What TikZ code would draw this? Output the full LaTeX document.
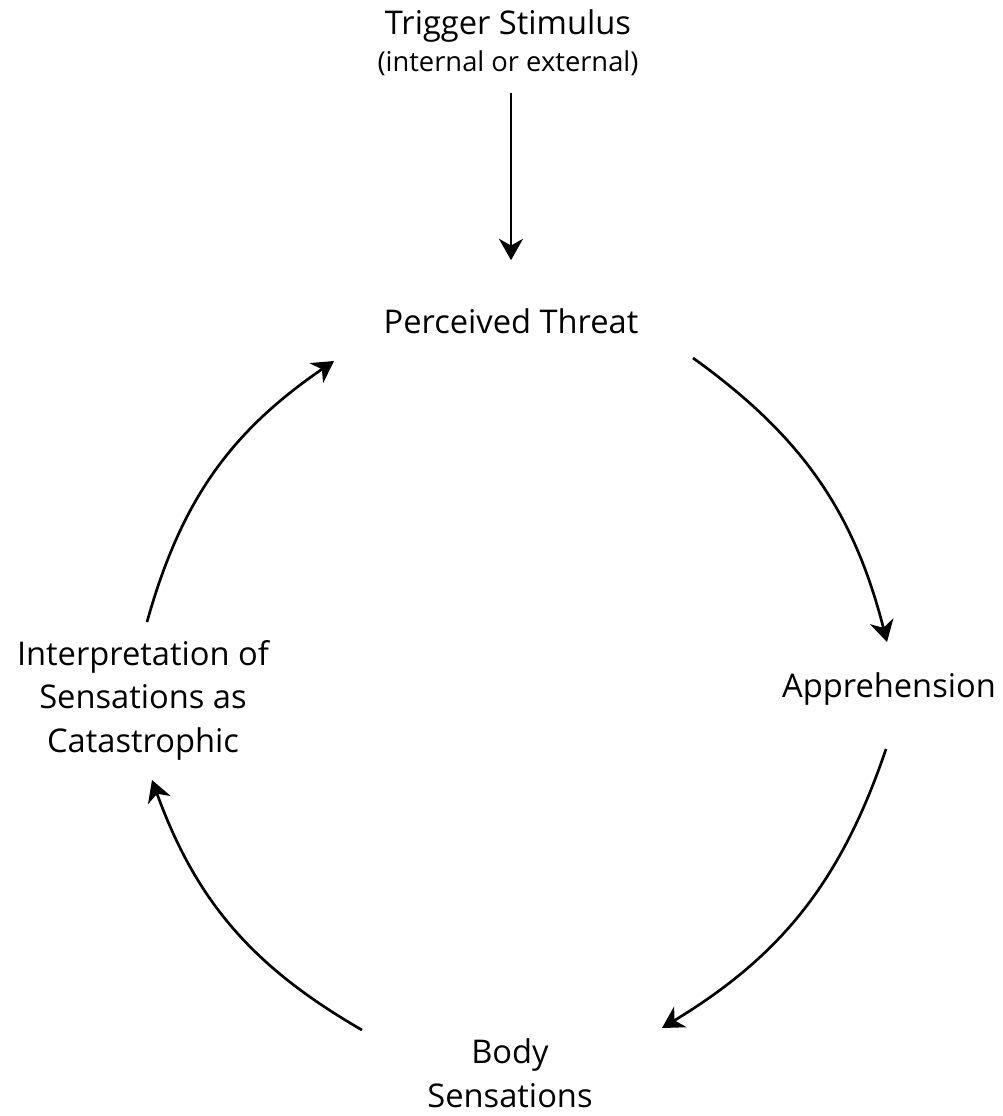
\documentclass[tikz,border=0pt]{standalone}
\usepackage{fontspec}
\setmainfont{Open Sans}
\usetikzlibrary{arrows.meta}
\begin{document}
\begin{tikzpicture}[x=0.75pt,y=0.75pt,line join=round,>={Stealth[length=16pt,width=18pt,inset=5pt]},font=\fontsize{24.5}{32.5}\selectfont]
	\tikzset{every node/.style={inner sep=0pt,align=center},
		cyc/.style={->,line width=2pt}}
	\useasboundingbox (0,0) rectangle (1002,-1116);
	\node[anchor=base] (trig) at (508,-35) {Trigger Stimulus};
	\node[anchor=base,font=\fontsize{20.5}{24}\selectfont] (ext) at (508,-72) {(internal or external)};
	\node[anchor=base] (threat) at (511,-333) {Perceived Threat};
	\node[anchor=base] (appr) at (889,-697) {Apprehension};
	\node[anchor=base] (body) at (510,-1107) {Body\\Sensations};
	\node[anchor=base] (interp) at (143,-752) {Interpretation of\\Sensations as\\Catastrophic};
	\draw[cyc,shorten <=12pt,shorten >=35.8pt] (threat.north |- ext.south) -- (threat.north);
	% ends of the four arcs of the cycle
	\foreach \x/\y/\n in {693/358/a1,887/642/a2,886/749/b1,662/1028/b2,362/1030/c1,152/780/c2,147/622/d1,334/361/d2} \coordinate (\n) at (\x,-\y);
	\foreach \s/\t in {a1/a2,b1/b2,c1/c2,d1/d2} \draw[cyc] (\s) to[bend left=20] (\t);
\end{tikzpicture}
\end{document}
